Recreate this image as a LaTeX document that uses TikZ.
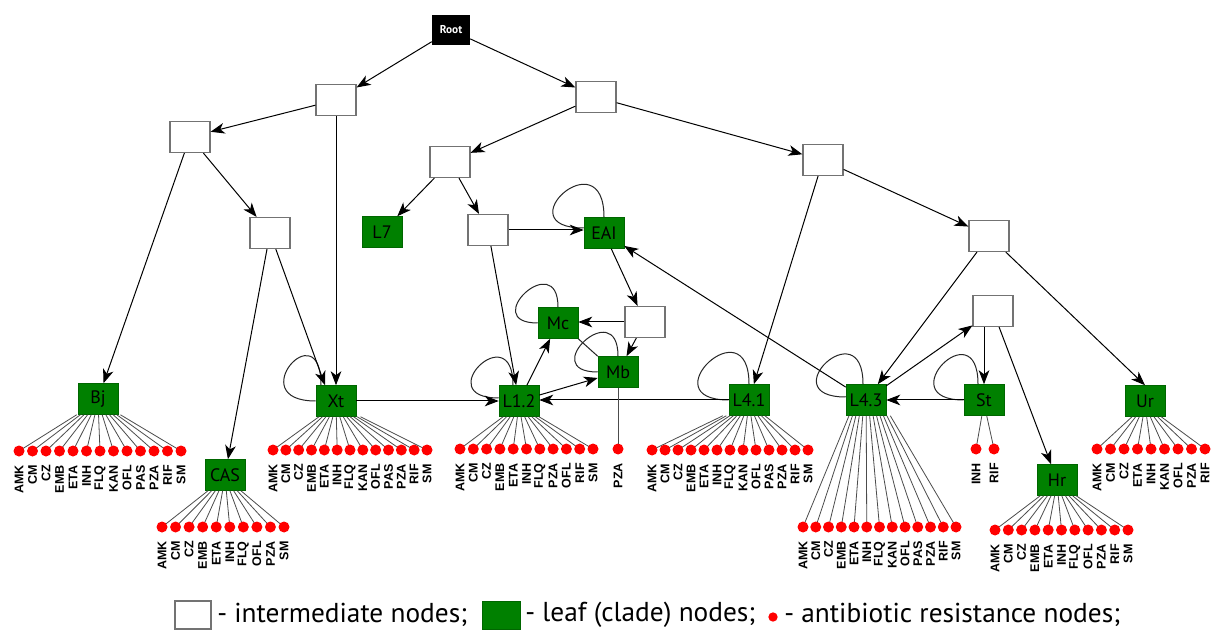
\documentclass[tikz,border=0pt]{standalone}
\usepackage{fontspec}
\setmainfont{PT Sans}
\newfontfamily\labfont{Liberation Sans}
\usetikzlibrary{arrows.meta,calc}

\newcommand\myfan[6]{%
  \foreach \lab [count=\i] in {#6} {%
    \pgfmathsetmacro\xx{#3+(\i-1)*(#4-#3)/(#5-1)}%
    \draw[fanline] let \p1=(#1.south), \p2=(\xx,#2) in ({\x1+0.27*(\x2-\x1)},\y1) -- (\xx,#2);%
    \node[rdot] (#1-\i) at (\xx,#2) {};%
    \node[rlab] (#1-l\i) at (\xx,#2+14) {\lab};%
  }%
}

\begin{document}
\begin{tikzpicture}[x=0.75pt,y=-0.75pt,
  inter/.style={draw=black!55, line width=0.9pt, fill=white, minimum width=30pt, minimum height=23.25pt, inner sep=0pt},
  leaf/.style={fill=green!50!black, draw=green!40!black, line width=0.4pt, minimum width=30pt, minimum height=23.25pt, inner sep=0pt, text=black, font=\fontsize{13.5}{14}\selectfont},
  rootbox/.style={fill=black, text=white, minimum width=28.5pt, minimum height=22.5pt, inner sep=0pt, font=\bfseries\fontsize{8.5}{9}\selectfont},
  arr/.style={draw=black, line width=0.75pt, -{Stealth[length=10.5pt,width=8pt,inset=3pt]}},
  loopline/.style={draw=black!85, line width=0.75pt},
  rdot/.style={circle, fill=red, minimum size=8.25pt, inner sep=0pt, outer sep=0pt},
  rlab/.style={rotate=90, anchor=east, inner sep=0pt, font=\labfont\bfseries\fontsize{9.4}{9.4}\selectfont},
  fanline/.style={draw=black!70, line width=0.6pt},
  legtext/.style={anchor=west, inner sep=0pt, font=\fontsize{20.5}{22}\selectfont}
]
\useasboundingbox[fill=white] (0,0) rectangle (1216,630);

% nodes
\node[rootbox] (Root) at (451,30) {Root};
\node[inter] (I1) at (336,100) {};
\node[inter] (I2) at (596,97) {};
\node[inter] (I3) at (190,137) {};
\node[inter] (I4) at (270,233) {};
\node[inter] (I5) at (450,162) {};
\node[inter] (I6) at (823,160) {};
\node[leaf] (L7) at (382,232) {L7};
\node[inter] (I7) at (488,230) {};
\node[leaf] (EAI) at (604,233) {EAI};
\node[inter] (I8) at (989,236) {};
\node[inter] (I9) at (645,322) {};
\node[leaf] (Mc) at (558,323) {Mc};
\node[leaf] (Mb) at (618,372) {Mb};
\node[inter] (I10) at (993,311) {};
\node[leaf] (Bj) at (98,399) {Bj};
\node[leaf] (Xt) at (336,401) {Xt};
\node[leaf] (L12) at (519,401) {L1.2};
\node[leaf] (L41) at (749,400) {L4.1};
\node[leaf] (L43) at (866,400) {L4.3};
\node[leaf] (St) at (984,400) {St};
\node[leaf] (Ur) at (1145,401) {Ur};
\node[leaf] (CAS) at (225,475) {CAS};
\node[leaf] (Hr) at (1057,480) {Hr};

% self loops
\draw[loopline] (EAI.north) .. controls +(0,-80) and +(-80,0) .. ($(EAI.west)+(0,-5)$);
\draw[loopline] (Xt.west) .. controls +(-75,0) and +(0,-75) .. ($(Xt.north)+(-15,0)$);
\draw[loopline] ($(L12.west)+(0,-3)$) .. controls +(-70,0) and +(0,-70) .. ($(L12.north)+(-6,0)$);
\draw[loopline] (Mc.north) .. controls +(0,-60) and +(-60,0) .. (Mc.west);
\draw[loopline] (Mb.north) .. controls +(0,-62) and +(-62,0) .. (Mb.west);
\draw[loopline] (L41.north) .. controls +(0,-80) and +(-80,0) .. (L41.west);
\draw[loopline] ($(L43.north)+(-3,0)$) .. controls +(0,-75) and +(-75,0) .. ($(L43.west)+(0,-3)$);
\draw[loopline] ($(St.north)+(-6,0)$) .. controls +(0,-75) and +(-75,0) .. (St.west);

% edges
\draw[arr] (Root) -- (I1);
\draw[arr] (Root) -- (I2);
\draw[arr] (I1) -- (I3);
\draw[arr] (I1.south) -- (Xt.north);
\draw[arr] (I3) -- (Bj);
\draw[arr] (I3) -- (I4);
\draw[arr] (I4) -- (CAS);
\draw[arr] (I4) -- ($(Xt.north)+(-11,0)$);
\draw[arr] (I2) -- (I5);
\draw[arr] (I2) -- (I6);
\draw[arr] (I5) -- (L7);
\draw[arr] (I5) -- (I7);
\draw[arr] (I7.east) -- (I7.east -| EAI.west);
\draw[arr] (I7) -- (L12);
\draw[arr] (EAI) -- (I9);
\draw[arr] (I9.west) -- (I9.west -| Mc.east);
\draw[arr] (I9) -- (Mb);
\draw[arr] (L12) -- (Mc);
\draw[arr] (L12) -- (Mb);
\draw[loopline] (Mc.south east) -- (Mb.north west);
\draw[arr] (L41.west) -- (L41.west -| L12.east);
\draw[arr] (Xt.east) -- (Xt.east -| L12.west);
\draw[arr] (I6) -- (L41);
\draw[arr] (I6) -- (I8);
\draw[arr] (L43) -- (EAI);
\draw[arr] (I8) -- (L43);
\draw[arr] (I8) -- (Ur.north);
\draw[arr] (L43) -- (I10);
\draw[arr] (St.north |- I10.south) -- (St.north);
\draw[arr] (I10) -- (Hr);
\draw[arr] (St.west) -- (St.west -| L43.east);

% fans of resistance nodes
\myfan{Bj}{451}{19}{181}{13}{AMK,CM,CZ,EMB,ETA,INH,FLQ,KAN,OFL,PAS,PZA,RIF,SM}
\myfan{CAS}{527}{162}{284}{10}{AMK,CM,CZ,EMB,ETA,INH,FLQ,OFL,PZA,SM}
\myfan{Xt}{450}{273}{427}{13}{AMK,CM,CZ,EMB,ETA,INH,FLQ,KAN,OFL,PAS,PZA,RIF,SM}
\myfan{L12}{449}{460}{593}{11}{AMK,CM,CZ,EMB,ETA,INH,FLQ,PZA,OFL,RIF,SM}
\myfan{L41}{450}{652}{808}{13}{AMK,CM,CZ,EMB,ETA,INH,FLQ,KAN,OFL,PAS,PZA,RIF,SM}
\myfan{L43}{527}{803}{956}{13}{AMK,CM,CZ,EMB,ETA,INH,FLQ,KAN,OFL,PAS,PZA,RIF,SM}
\myfan{St}{449}{976}{994}{2}{INH,RIF}
\myfan{Hr}{530}{995}{1128}{11}{AMK,CM,CZ,EMB,ETA,INH,FLQ,OFL,PZA,RIF,SM}
\myfan{Ur}{449}{1097}{1205}{9}{AMK,CM,CZ,ETA,INH,KAN,OFL,PZA,RIF}

\node[rdot] (Mb-1) at (618,449) {};
\draw[fanline] (Mb.south) -- (Mb-1);
\node[rlab] (Mb-l1) at (618,463) {PZA};

% legend
\node[inter, minimum width=27pt, minimum height=21pt] (legI) at (193,615) {};
\node[legtext] (legIt) at (217,615) {- intermediate nodes;};
\node[leaf, minimum width=28.5pt, minimum height=21pt] (legL) at (501,615) {};
\node[legtext] (legLt) at (525,615) {- leaf (clade) nodes;};
\node[rdot, minimum size=7pt] (legD) at (773,617) {};
\node[legtext] (legDt) at (784,615) {- antibiotic resistance nodes;};
\end{tikzpicture}
\end{document}
